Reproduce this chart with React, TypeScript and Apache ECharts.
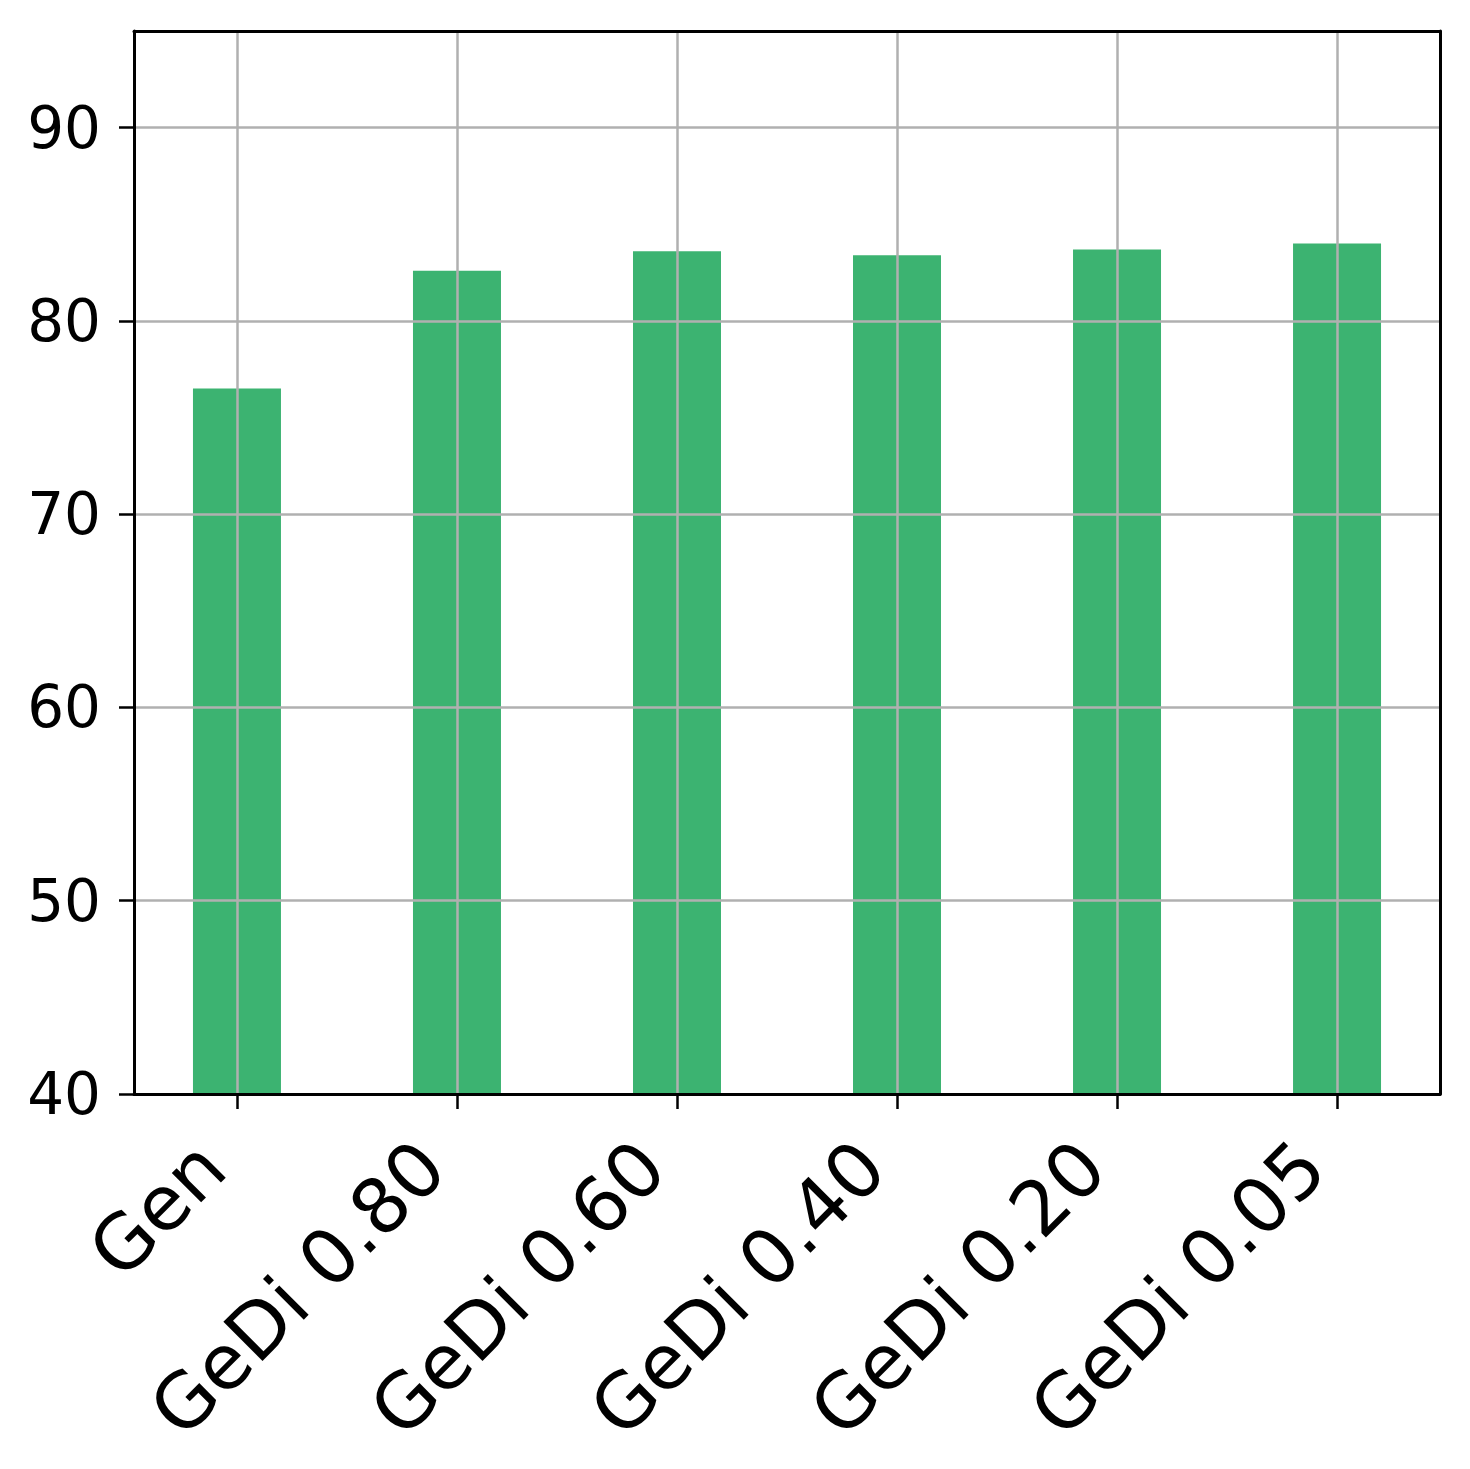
import React, { useEffect, useRef } from "react";
import * as echarts from "echarts";

const categories = ["Gen", "GeDi 0.80", "GeDi 0.60", "GeDi 0.40", "GeDi 0.20", "GeDi 0.05"];
const values = [76.5, 82.6, 83.6, 83.4, 83.7, 84.0];
const yTicks = [40, 50, 60, 70, 80, 90];
const yGridLines = [50, 60, 70, 80, 90];

const FONT = "DejaVu Sans";
const GRID_COLOR = "#b0b0b0";
const BAR_COLOR = "#3cb371";

export default function App() {
  const ref = useRef<HTMLDivElement>(null);
  useEffect(() => {
    document.body.style.margin = "0";
    if (!ref.current) return;
    const chart = echarts.init(ref.current, undefined, { renderer: "svg" });
    const xIdx = categories.map((_, i) => i);
    const option: any = {
      animation: false,
      backgroundColor: "#ffffff",
      grid: { left: 134, right: 30, top: 31, bottom: 375, containLabel: false },
      xAxis: [
        {
          type: "value",
          min: -0.468,
          max: categories.length - 1 + 0.468,
          z: 5,
          axisLine: { show: true, onZero: false, lineStyle: { color: "#000", width: 3 } },
          axisTick: { show: true, length: 15, customValues: xIdx, lineStyle: { color: "#000", width: 2.5 } },
          axisLabel: {
            show: true,
            customValues: xIdx,
            rotate: 45,
            margin: 35,
            padding: [0, 36, 70, 0],
            fontFamily: FONT,
            fontSize: 76,
            color: "#000",
            formatter: (v: number) => categories[Math.round(v)] ?? "",
          },
          splitLine: { show: false },
        },
        {
          type: "value",
          position: "top",
          min: -0.468,
          max: categories.length - 1 + 0.468,
          z: 5,
          axisLine: { show: true, onZero: false, lineStyle: { color: "#000", width: 3 } },
          axisTick: { show: false },
          axisLabel: { show: false },
          splitLine: { show: false },
        },
      ],
      yAxis: [
        {
          type: "value",
          min: 40,
          max: 95,
          z: 5,
          axisLine: { show: true, onZero: false, lineStyle: { color: "#000", width: 3 } },
          axisTick: { show: true, length: 15, customValues: yTicks, lineStyle: { color: "#000", width: 2.5 } },
          axisLabel: {
            show: true,
            customValues: yTicks,
            margin: 33,
            fontFamily: FONT,
            fontSize: 58,
            color: "#000",
          },
          splitLine: { show: false },
        },
        {
          type: "value",
          position: "right",
          min: 40,
          max: 95,
          z: 5,
          axisLine: { show: true, onZero: false, lineStyle: { color: "#000", width: 3 } },
          axisTick: { show: false },
          axisLabel: { show: false },
          splitLine: { show: false },
        },
      ],
      series: [
        {
          type: "bar",
          xAxisIndex: 0,
          yAxisIndex: 0,
          barWidth: 88,
          itemStyle: { color: BAR_COLOR },
          data: values.map((v, i) => [i, v]),
          markLine: {
            silent: true,
            symbol: ["none", "none"],
            label: { show: false },
            lineStyle: { color: GRID_COLOR, width: 2.5, type: "solid" },
            data: [
              ...xIdx.map((i) => ({ xAxis: i })),
              ...yGridLines.map((v) => ({ yAxis: v })),
            ],
          },
        },
      ],
    };
    chart.setOption(option);
    return () => chart.dispose();
  }, []);
  return <div ref={ref} style={{ width: 1470, height: 1469 }} />;
}
